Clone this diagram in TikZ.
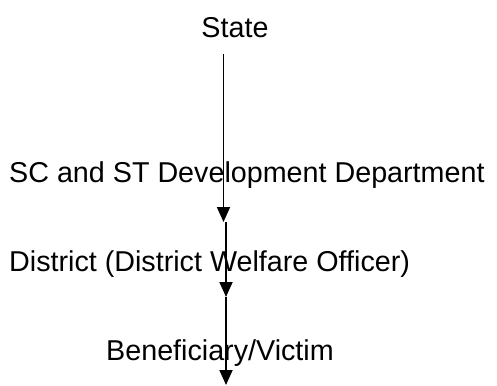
\documentclass[tikz,border=0pt]{standalone}
\usepackage{fontspec}
\setmainfont{Liberation Sans}
\usetikzlibrary{arrows.meta}
\begin{document}
\begin{tikzpicture}[x=1pt,y=-1pt,
  label text/.style={inner sep=0pt, font=\fontsize{28.7}{32}\selectfont},
  flow/.style={line width=1.8pt, -{Triangle[length=15pt,width=13pt]}}]
\useasboundingbox (0,0) rectangle (497,385);
% level labels
\node[label text, anchor=base] (state) at (235,38) {State};
\node[label text, anchor=base west] (dept) at (9,182) {SC and ST Development Department};
\node[label text, anchor=base west] (district) at (9,271) {District (District Welfare Officer)};
\node[label text, anchor=base west] (benef) at (106,360) {Beneficiary/Victim};
% chain of arrows
\coordinate (c0) at (223.5,54);
\coordinate (c1) at (223.5,222);
\coordinate (c1b) at (226,222);
\coordinate (c2) at (226,297);
\coordinate (c3) at (226,385);
\draw[flow] (c0) -- (c1);
\draw[flow] (c1b) -- (c2);
\draw[flow] (c2) -- (c3);
\end{tikzpicture}
\end{document}
